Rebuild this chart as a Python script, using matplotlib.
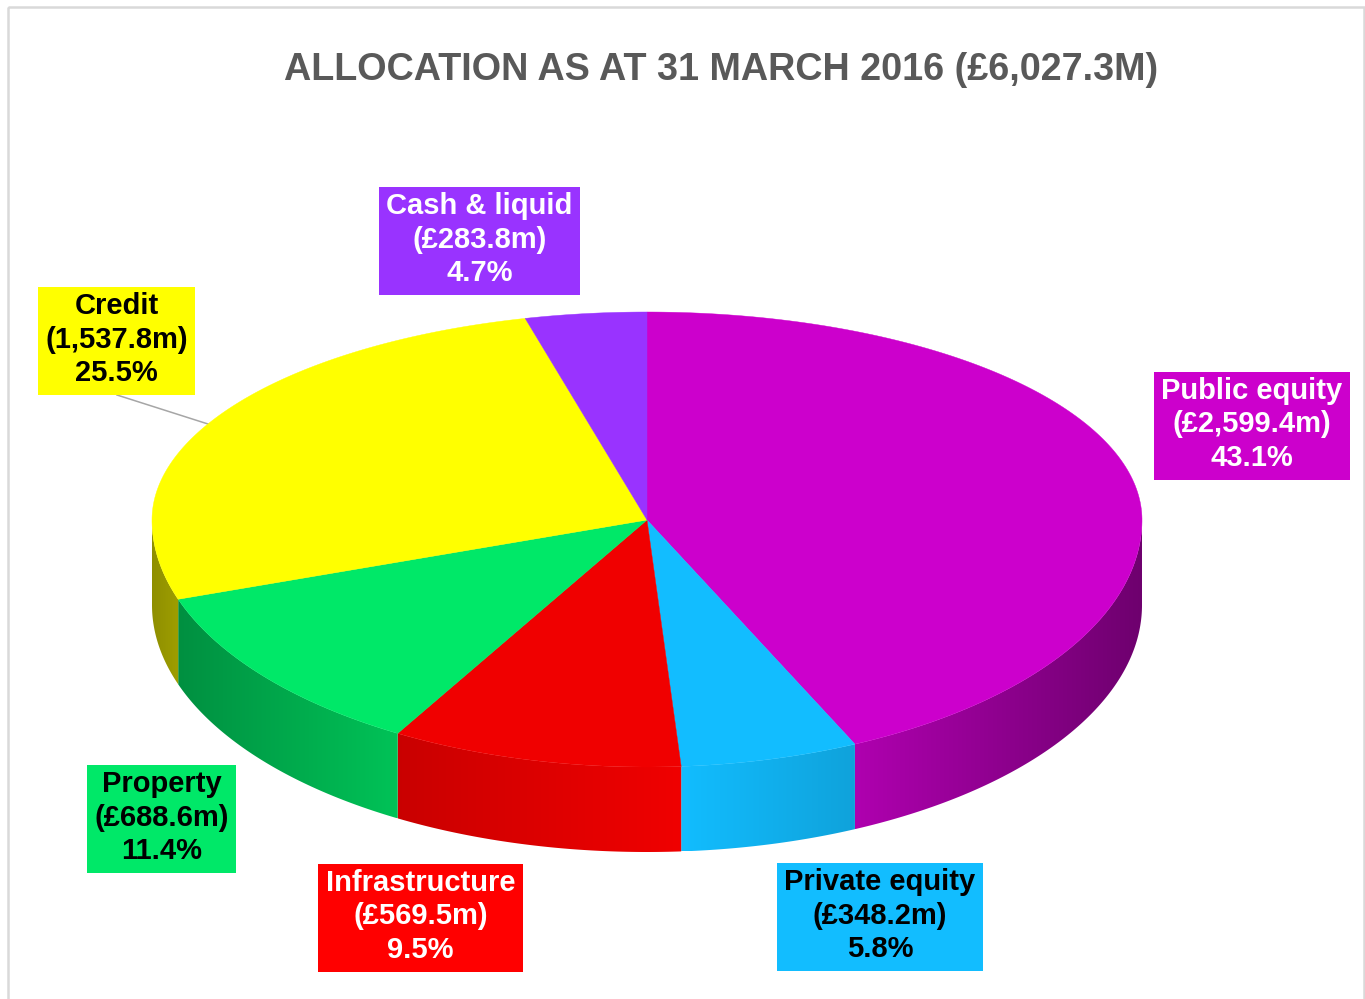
import numpy as np
import matplotlib
matplotlib.use("Agg")
import matplotlib.pyplot as plt
from matplotlib.patches import Polygon, Rectangle

plt.rcParams['font.family'] = ['Liberation Sans', 'DejaVu Sans']

title = "ALLOCATION AS AT 31 MARCH 2016 (£6,027.3M)"

# clockwise from 12 o'clock
names = ["Public equity", "Private equity", "Infrastructure", "Property", "Credit", "Cash & liquid"]
amounts = ["£2,599.4m", "£348.2m", "£569.5m", "£688.6m", "1,537.8m", "£283.8m"]
shares = [43.1, 5.8, 9.5, 11.4, 25.5, 4.7]
top_colors = ["#cc00cc", "#12bdff", "#f00000", "#00e868", "#ffff00", "#9933ff"]
box_colors = ["#cc00cc", "#12bdff", "#ff0000", "#00e868", "#ffff00", "#9933ff"]
text_colors = ["white", "black", "white", "black", "black", "white"]

# label boxes: left, top, right, bottom in pixels
boxes = [(1154, 372, 1350, 480), (777, 863, 983, 971), (318, 864, 523, 972),
         (87, 765, 236, 873), (38, 287, 195, 395), (379, 187, 580, 295)]

CX, CY = 647, 520
RX, RY_UP, RY_DOWN = 495, 208, 247
DEPTH = 85


def rim(theta):
    # theta in degrees, clockwise from the top of the pie
    theta = np.asarray(theta, dtype=float)
    t = (theta + 180) % 360 - 180
    # back half is foreshortened by the 3D view
    t = np.where(np.abs(t) < 90, t - 4.8 * np.sin(np.radians(2 * t)), t)
    r = np.radians(t)
    x = CX + RX * np.sin(r)
    up = np.cos(r)
    y = CY - up * np.where(up > 0, RY_UP, RY_DOWN)
    return x, y


def shade(x):
    return np.interp(x, [152, 179, 399, 681, 854, 1142], [.56, .62, .84, 1, .86, .54])


fig = plt.figure(figsize=(13.65, 9.99), dpi=100)
ax = fig.add_axes([0, 0, 1, 1])

ax.add_patch(Rectangle((8, 7), 1356, 1010, fill=False, ec="#d9d9d9", lw=1.8))

edges = np.concatenate([[0], np.cumsum(shares)]) / sum(shares) * 360

# side wall, front half only, one horizontal gradient per slice
for i in range(len(shares)):
    a0, a1 = max(edges[i], 90), min(edges[i + 1], 270)
    if a1 <= a0:
        continue
    x, y = rim(np.linspace(a0, a1, 200))
    wall = np.column_stack([np.r_[x, x[::-1]], np.r_[y, y[::-1] + DEPTH]])
    poly = Polygon(wall, fc="none", ec="none", transform=ax.transData)
    ax.add_patch(poly)
    xs = np.arange(np.floor(x.min()), np.ceil(x.max()) + 1)
    base = np.array(matplotlib.colors.to_rgb(top_colors[i]))
    grad = (shade(xs)[:, None] * base)[None, :, :]
    im = ax.imshow(grad, extent=(xs[0], xs[-1], y.max() + DEPTH, y.min()), aspect="auto",
                   interpolation="bilinear", zorder=2)
    im.set_clip_path(poly)

# top face
for i in range(len(shares)):
    th = np.linspace(edges[i], edges[i + 1], 200)
    x, y = rim(th)
    pts = np.column_stack([np.r_[CX, x], np.r_[CY, y]])
    ax.add_patch(Polygon(pts, fc=top_colors[i], ec=top_colors[i], lw=0.3, zorder=3))

# leader line for Credit
ax.plot([117, 208], [395, 424], color="#a6a6a6", lw=1.1, zorder=2)

ax.text(721, 70.5, title, fontsize=27.2, fontweight="bold", color="#595959",
        ha="center", va="center")

for i in range(len(names)):
    l, t, r, b = boxes[i]
    ax.add_patch(Rectangle((l, t), r - l, b - t, fc=box_colors[i], ec="none", zorder=4))
    lines = [names[i], "(" + amounts[i] + ")", f"{shares[i]}%"]
    for j, line in enumerate(lines):
        ax.text((l + r) / 2, t + 19 + j * 33.5, line, fontsize=21, fontweight="bold",
                color=text_colors[i], ha="center", va="center", zorder=5)

ax.set_xlim(0, 1365)
ax.set_ylim(999, 0)
ax.axis("off")

fig.savefig("out.png", dpi=100)
